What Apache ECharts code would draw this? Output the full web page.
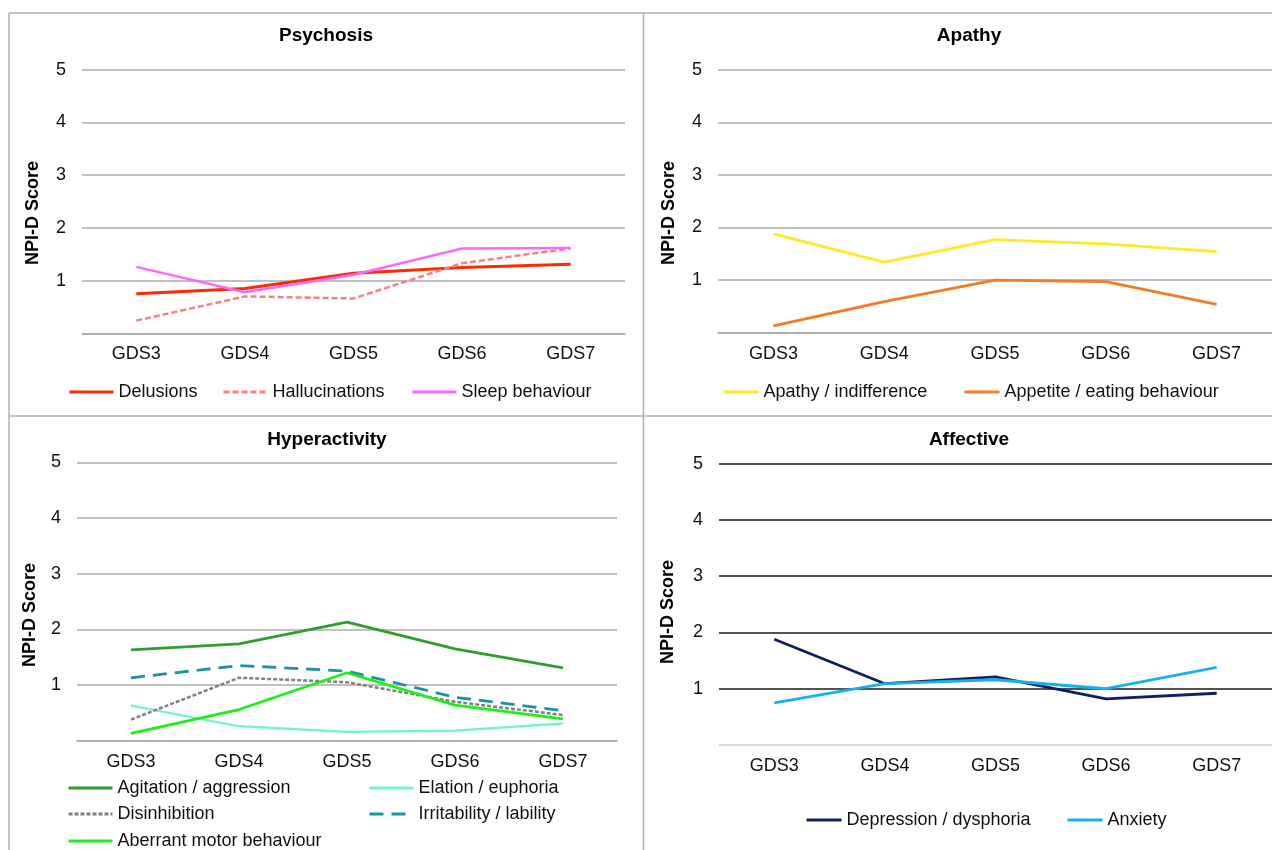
<!DOCTYPE html>
<html>
<head>
<meta charset="utf-8">
<script src="https://cdn.jsdelivr.net/npm/echarts@6/dist/echarts.min.js"></script>
<style>
html,body{margin:0;padding:0;background:#fff;}
#chart{width:1272px;height:850px;}
</style>
</head>
<body>
<div id="chart"></div>
<script>
// ---- data ----
const categories = ['GDS3', 'GDS4', 'GDS5', 'GDS6', 'GDS7'];
const yTickLabels = ['', '1', '2', '3', '4', '5'];
const panelTitles = ['Psychosis', 'Apathy', 'Hyperactivity', 'Affective'];
const yAxisTitle = 'NPI-D Score';

const delusions = [0.75, 0.85, 1.14, 1.25, 1.31];
const hallucinations = [0.24, 0.70, 0.66, 1.33, 1.61];
const sleepBehaviour = [1.26, 0.78, 1.11, 1.61, 1.62];

const apathyIndifference = [1.88, 1.34, 1.77, 1.69, 1.54];
const appetiteEating = [0.13, 0.59, 1.00, 0.97, 0.54];

const agitationAggression = [1.63, 1.74, 2.13, 1.65, 1.31];
const elationEuphoria = [0.63, 0.26, 0.16, 0.18, 0.31];
const disinhibition = [0.38, 1.13, 1.05, 0.70, 0.46];
const irritabilityLability = [1.13, 1.35, 1.25, 0.78, 0.54];
const aberrantMotor = [0.13, 0.56, 1.22, 0.64, 0.39];

const depressionDysphoria = [1.88, 1.09, 1.21, 0.82, 0.92];
const anxiety = [0.75, 1.09, 1.16, 1.00, 1.38];

// ---- series definitions (name, data, panel, style) ----
const seriesDefs = [
  {name: 'Delusions', data: delusions, panel: 0, color: '#FF2A00', width: 3, type: 'solid'},
  {name: 'Hallucinations', data: hallucinations, panel: 0, color: '#FF7C80', width: 2.5, type: [6, 3]},
  {name: 'Sleep behaviour', data: sleepBehaviour, panel: 0, color: '#FF66FF', width: 2.5, type: 'solid'},
  {name: 'Apathy / indifference', data: apathyIndifference, panel: 1, color: '#FCEB1E', width: 2.8, type: 'solid'},
  {name: 'Appetite / eating behaviour', data: appetiteEating, panel: 1, color: '#F47B22', width: 2.8, type: 'solid'},
  {name: 'Agitation / aggression', data: agitationAggression, panel: 2, color: '#2E9E2E', width: 2.8, type: 'solid'},
  {name: 'Elation / euphoria', data: elationEuphoria, panel: 2, color: '#6FF5C8', width: 2.2, type: 'solid'},
  {name: 'Disinhibition', data: disinhibition, panel: 2, color: '#808080', width: 2.5, type: [4, 2]},
  {name: 'Irritability / lability', data: irritabilityLability, panel: 2, color: '#17979B', width: 2.8, type: [14, 8]},
  {name: 'Aberrant motor behaviour', data: aberrantMotor, panel: 2, color: '#1AF01A', width: 2.8, type: 'solid'},
  {name: 'Depression / dysphoria', data: depressionDysphoria, panel: 3, color: '#0F2060', width: 2.8, type: 'solid'},
  {name: 'Anxiety', data: anxiety, panel: 3, color: '#14B0F0', width: 2.8, type: 'solid'}
];

// ---- layout ----
const grids = [
  {left: 82, top: 69.7, width: 543, height: 263.6},
  {left: 718, top: 69.7, width: 557, height: 263},
  {left: 77, top: 462.3, width: 540, height: 278.4},
  {left: 719, top: 463.7, width: 558, height: 281.3}
];
const titlePos = [[326, 37], [969, 37], [327, 441], [969, 441]];
const yNamePos = [[33, 213], [669, 213], [30, 615], [668, 612]];
const legendPos = [
  {name: 'Delusions', x: 68, y: 391, w: 44},
  {name: 'Hallucinations', x: 222, y: 391, w: 44},
  {name: 'Sleep behaviour', x: 411, y: 391, w: 44},
  {name: 'Apathy / indifference', x: 722, y: 391, w: 35},
  {name: 'Appetite / eating behaviour', x: 963, y: 391, w: 35},
  {name: 'Agitation / aggression', x: 67, y: 787, w: 44},
  {name: 'Elation / euphoria', x: 368, y: 787, w: 44},
  {name: 'Disinhibition', x: 67, y: 813, w: 44},
  {name: 'Irritability / lability', x: 368, y: 813, w: 44},
  {name: 'Aberrant motor behaviour', x: 67, y: 840, w: 44},
  {name: 'Depression / dysphoria', x: 805, y: 819, w: 35},
  {name: 'Anxiety', x: 1066, y: 819, w: 35}
];

const FONT = 'Liberation Sans, Arial, sans-serif';
const gridColor = '#ABABAB';

const xAxes = grids.map((g, i) => ({
  type: 'category', gridIndex: i, data: categories, boundaryGap: true,
  axisLine: {show: true, lineStyle: {color: i === 3 ? '#D9D9D9' : gridColor, width: 1.5}},
  axisTick: {show: false},
  axisLabel: {margin: 12, fontSize: 18, color: '#111', fontFamily: FONT}
}));
const yAxes = grids.map((g, i) => ({
  type: 'value', gridIndex: i, min: 0, max: 5, interval: 1,
  axisLine: {show: false}, axisTick: {show: false},
  axisLabel: {margin: 16, fontSize: 18, color: '#111', fontFamily: FONT,
    formatter: v => yTickLabels[Math.round(v)]},
  splitLine: {show: true, lineStyle: {
    width: 1.5,
    color: i === 3 ? ['#D9D9D9', '#1a1a1a', '#1a1a1a', '#1a1a1a', '#1a1a1a', '#1a1a1a'] : gridColor}}
}));

const series = seriesDefs.map(s => ({
  name: s.name, type: 'line', xAxisIndex: s.panel, yAxisIndex: s.panel,
  data: s.data, symbol: 'none', showSymbol: false, smooth: false,
  lineStyle: {color: s.color, width: s.width, type: s.type},
  itemStyle: {color: s.color},
  emphasis: {disabled: true}
}));

const legends = legendPos.map(l => {
  const def = seriesDefs.find(s => s.name === l.name);
  return {
    data: [l.name], left: l.x, top: l.y - 8, padding: 0,
    itemWidth: l.w, itemHeight: 14, itemGap: 0,
    itemStyle: {opacity: 0},
    lineStyle: {width: 3, color: def.color, type: def.type},
    textStyle: {fontSize: 18, color: '#111', fontFamily: FONT, padding: [0, 0, 0, 0]},
    selectedMode: false
  };
});

const titles = panelTitles.map((t, i) => ({
  text: t, left: titlePos[i][0], top: titlePos[i][1] - 11, textAlign: 'center', padding: 0,
  textStyle: {fontSize: 19, fontWeight: 'bold', color: '#000', fontFamily: FONT}
}));

const graphics = [];
yNamePos.forEach(p => {
  graphics.push({type: 'text', x: p[0], y: p[1], rotation: Math.PI / 2,
    style: {text: yAxisTitle, font: 'bold 18px ' + FONT, fill: '#000', textAlign: 'center', textVerticalAlign: 'middle'}});
});
const borderColor = '#B0B0B0';
[[9, 13, 1272, 13], [9, 13, 9, 850], [643.5, 13, 643.5, 850], [9, 416, 1272, 416]].forEach(c => {
  graphics.push({type: 'line', shape: {x1: c[0], y1: c[1], x2: c[2], y2: c[3]},
    style: {stroke: borderColor, lineWidth: 1.5}, z: 10});
});

const chart = echarts.init(document.getElementById('chart'), null, {renderer: 'canvas'});
chart.setOption({
  animation: false,
  backgroundColor: '#fff',
  title: titles,
  grid: grids,
  xAxis: xAxes,
  yAxis: yAxes,
  legend: legends,
  series: series,
  graphic: graphics
});
</script>
</body>
</html>
